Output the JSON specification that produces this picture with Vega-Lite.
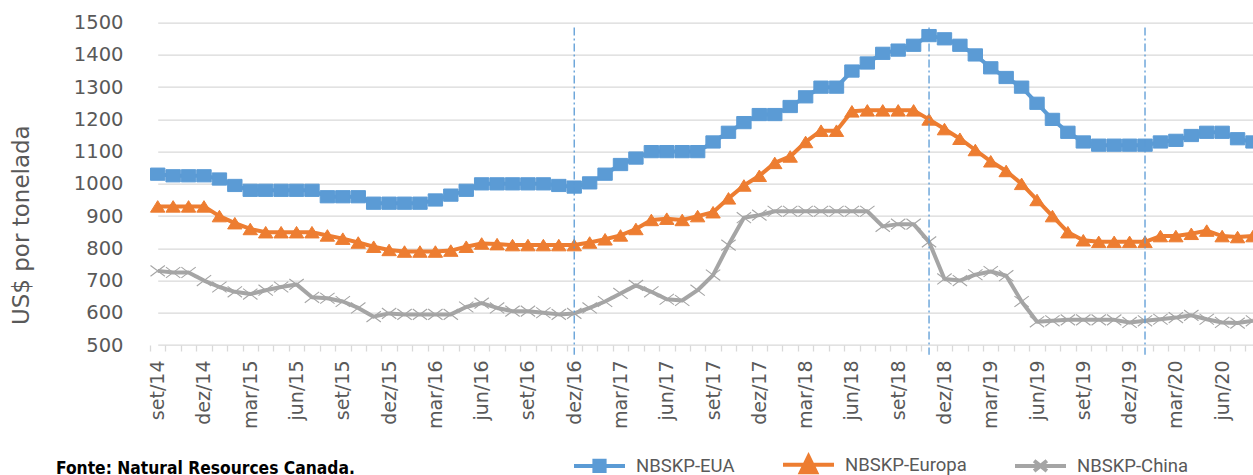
{
  "$schema": "https://vega.github.io/schema/vega-lite/v6.json",
  "autosize": "none",
  "width": 1103,
  "height": 322.3,
  "padding": {"left": 150, "top": 22.7, "right": 0, "bottom": 130},
  "background": "#ffffff",
  "title": {"text": "Fonte: Natural Resources Canada.", "orient": "top", "anchor": "start", "frame": "group", "font": "Liberation Sans Narrow, DejaVu Sans Condensed", "fontSize": 17.3, "fontWeight": "bold", "color": "#000000", "baseline": "alphabetic", "offset": 0, "dx": -94, "dy": 479},
  "config": {
    "view": {"stroke": null},
    "axis": {"labelColor": "#595959", "titleColor": "#595959"}
  },
  "datasets": {
    "precos": [
      {"mes": "set/14", "NBSKP-EUA": 1030, "NBSKP-Europa": 930, "NBSKP-China": 730},
      {"mes": "out/14", "NBSKP-EUA": 1025, "NBSKP-Europa": 930, "NBSKP-China": 725},
      {"mes": "nov/14", "NBSKP-EUA": 1025, "NBSKP-Europa": 930, "NBSKP-China": 725},
      {"mes": "dez/14", "NBSKP-EUA": 1025, "NBSKP-Europa": 930, "NBSKP-China": 700},
      {"mes": "jan/15", "NBSKP-EUA": 1015, "NBSKP-Europa": 900, "NBSKP-China": 680},
      {"mes": "fev/15", "NBSKP-EUA": 995, "NBSKP-Europa": 878, "NBSKP-China": 665},
      {"mes": "mar/15", "NBSKP-EUA": 980, "NBSKP-Europa": 860, "NBSKP-China": 658},
      {"mes": "abr/15", "NBSKP-EUA": 980, "NBSKP-Europa": 850, "NBSKP-China": 670},
      {"mes": "mai/15", "NBSKP-EUA": 980, "NBSKP-Europa": 850, "NBSKP-China": 680},
      {"mes": "jun/15", "NBSKP-EUA": 980, "NBSKP-Europa": 850, "NBSKP-China": 688},
      {"mes": "jul/15", "NBSKP-EUA": 980, "NBSKP-Europa": 850, "NBSKP-China": 648},
      {"mes": "ago/15", "NBSKP-EUA": 960, "NBSKP-Europa": 840, "NBSKP-China": 645},
      {"mes": "set/15", "NBSKP-EUA": 960, "NBSKP-Europa": 830, "NBSKP-China": 635},
      {"mes": "out/15", "NBSKP-EUA": 960, "NBSKP-Europa": 818, "NBSKP-China": 615},
      {"mes": "nov/15", "NBSKP-EUA": 940, "NBSKP-Europa": 805, "NBSKP-China": 588},
      {"mes": "dez/15", "NBSKP-EUA": 940, "NBSKP-Europa": 795, "NBSKP-China": 598},
      {"mes": "jan/16", "NBSKP-EUA": 940, "NBSKP-Europa": 790, "NBSKP-China": 595},
      {"mes": "fev/16", "NBSKP-EUA": 940, "NBSKP-Europa": 790, "NBSKP-China": 595},
      {"mes": "mar/16", "NBSKP-EUA": 950, "NBSKP-Europa": 790, "NBSKP-China": 595},
      {"mes": "abr/16", "NBSKP-EUA": 965, "NBSKP-Europa": 793, "NBSKP-China": 595},
      {"mes": "mai/16", "NBSKP-EUA": 980, "NBSKP-Europa": 805, "NBSKP-China": 618},
      {"mes": "jun/16", "NBSKP-EUA": 1000, "NBSKP-Europa": 815, "NBSKP-China": 630},
      {"mes": "jul/16", "NBSKP-EUA": 1000, "NBSKP-Europa": 813, "NBSKP-China": 615},
      {"mes": "ago/16", "NBSKP-EUA": 1000, "NBSKP-Europa": 810, "NBSKP-China": 605},
      {"mes": "set/16", "NBSKP-EUA": 1000, "NBSKP-Europa": 810, "NBSKP-China": 605},
      {"mes": "out/16", "NBSKP-EUA": 1000, "NBSKP-Europa": 810, "NBSKP-China": 600},
      {"mes": "nov/16", "NBSKP-EUA": 995, "NBSKP-Europa": 810, "NBSKP-China": 595},
      {"mes": "dez/16", "NBSKP-EUA": 990, "NBSKP-Europa": 810, "NBSKP-China": 598},
      {"mes": "jan/17", "NBSKP-EUA": 1003, "NBSKP-Europa": 818, "NBSKP-China": 615},
      {"mes": "fev/17", "NBSKP-EUA": 1030, "NBSKP-Europa": 828, "NBSKP-China": 635},
      {"mes": "mar/17", "NBSKP-EUA": 1060, "NBSKP-Europa": 840, "NBSKP-China": 660},
      {"mes": "abr/17", "NBSKP-EUA": 1080, "NBSKP-Europa": 860, "NBSKP-China": 685},
      {"mes": "mai/17", "NBSKP-EUA": 1100, "NBSKP-Europa": 888, "NBSKP-China": 665},
      {"mes": "jun/17", "NBSKP-EUA": 1100, "NBSKP-Europa": 892, "NBSKP-China": 642},
      {"mes": "jul/17", "NBSKP-EUA": 1100, "NBSKP-Europa": 888, "NBSKP-China": 638},
      {"mes": "ago/17", "NBSKP-EUA": 1100, "NBSKP-Europa": 900, "NBSKP-China": 670},
      {"mes": "set/17", "NBSKP-EUA": 1130, "NBSKP-Europa": 912, "NBSKP-China": 717},
      {"mes": "out/17", "NBSKP-EUA": 1160, "NBSKP-Europa": 955, "NBSKP-China": 810},
      {"mes": "nov/17", "NBSKP-EUA": 1190, "NBSKP-Europa": 995, "NBSKP-China": 895},
      {"mes": "dez/17", "NBSKP-EUA": 1215, "NBSKP-Europa": 1025, "NBSKP-China": 903},
      {"mes": "jan/18", "NBSKP-EUA": 1215, "NBSKP-Europa": 1065, "NBSKP-China": 915},
      {"mes": "fev/18", "NBSKP-EUA": 1240, "NBSKP-Europa": 1085, "NBSKP-China": 915},
      {"mes": "mar/18", "NBSKP-EUA": 1270, "NBSKP-Europa": 1130, "NBSKP-China": 915},
      {"mes": "abr/18", "NBSKP-EUA": 1300, "NBSKP-Europa": 1165, "NBSKP-China": 915},
      {"mes": "mai/18", "NBSKP-EUA": 1300, "NBSKP-Europa": 1165, "NBSKP-China": 915},
      {"mes": "jun/18", "NBSKP-EUA": 1350, "NBSKP-Europa": 1225, "NBSKP-China": 915},
      {"mes": "jul/18", "NBSKP-EUA": 1375, "NBSKP-Europa": 1228, "NBSKP-China": 915},
      {"mes": "ago/18", "NBSKP-EUA": 1405, "NBSKP-Europa": 1228, "NBSKP-China": 868},
      {"mes": "set/18", "NBSKP-EUA": 1415, "NBSKP-Europa": 1228, "NBSKP-China": 875},
      {"mes": "out/18", "NBSKP-EUA": 1430, "NBSKP-Europa": 1228, "NBSKP-China": 875},
      {"mes": "nov/18", "NBSKP-EUA": 1460, "NBSKP-Europa": 1200, "NBSKP-China": 820},
      {"mes": "dez/18", "NBSKP-EUA": 1450, "NBSKP-Europa": 1170, "NBSKP-China": 705},
      {"mes": "jan/19", "NBSKP-EUA": 1430, "NBSKP-Europa": 1140, "NBSKP-China": 700},
      {"mes": "fev/19", "NBSKP-EUA": 1400, "NBSKP-Europa": 1105, "NBSKP-China": 718},
      {"mes": "mar/19", "NBSKP-EUA": 1360, "NBSKP-Europa": 1070, "NBSKP-China": 728},
      {"mes": "abr/19", "NBSKP-EUA": 1330, "NBSKP-Europa": 1040, "NBSKP-China": 715},
      {"mes": "mai/19", "NBSKP-EUA": 1300, "NBSKP-Europa": 1000, "NBSKP-China": 635},
      {"mes": "jun/19", "NBSKP-EUA": 1250, "NBSKP-Europa": 950, "NBSKP-China": 572},
      {"mes": "jul/19", "NBSKP-EUA": 1200, "NBSKP-Europa": 900, "NBSKP-China": 575},
      {"mes": "ago/19", "NBSKP-EUA": 1160, "NBSKP-Europa": 850, "NBSKP-China": 578},
      {"mes": "set/19", "NBSKP-EUA": 1130, "NBSKP-Europa": 825, "NBSKP-China": 578},
      {"mes": "out/19", "NBSKP-EUA": 1120, "NBSKP-Europa": 820, "NBSKP-China": 578},
      {"mes": "nov/19", "NBSKP-EUA": 1120, "NBSKP-Europa": 820, "NBSKP-China": 578},
      {"mes": "dez/19", "NBSKP-EUA": 1120, "NBSKP-Europa": 820, "NBSKP-China": 570},
      {"mes": "jan/20", "NBSKP-EUA": 1120, "NBSKP-Europa": 820, "NBSKP-China": 575},
      {"mes": "fev/20", "NBSKP-EUA": 1130, "NBSKP-Europa": 838, "NBSKP-China": 580},
      {"mes": "mar/20", "NBSKP-EUA": 1135, "NBSKP-Europa": 838, "NBSKP-China": 585},
      {"mes": "abr/20", "NBSKP-EUA": 1150, "NBSKP-Europa": 845, "NBSKP-China": 592},
      {"mes": "mai/20", "NBSKP-EUA": 1160, "NBSKP-Europa": 855, "NBSKP-China": 580},
      {"mes": "jun/20", "NBSKP-EUA": 1160, "NBSKP-Europa": 838, "NBSKP-China": 570},
      {"mes": "jul/20", "NBSKP-EUA": 1140, "NBSKP-Europa": 835, "NBSKP-China": 568},
      {"mes": "ago/20", "NBSKP-EUA": 1130, "NBSKP-Europa": 838, "NBSKP-China": 575}
    ],
    "marcos": [{"mes": "dez/16"}, {"mes": "nov/18"}, {"mes": "jan/20"}]
  },
  "encoding": {
    "x": {
      "field": "mes", "type": "ordinal", "sort": null,
      "scale": {"type": "point", "padding": 0, "range": [7.7, 1103],
        "domain": ["set/14","out/14","nov/14","dez/14","jan/15","fev/15","mar/15","abr/15","mai/15","jun/15","jul/15","ago/15","set/15","out/15","nov/15","dez/15","jan/16","fev/16","mar/16","abr/16","mai/16","jun/16","jul/16","ago/16","set/16","out/16","nov/16","dez/16","jan/17","fev/17","mar/17","abr/17","mai/17","jun/17","jul/17","ago/17","set/17","out/17","nov/17","dez/17","jan/18","fev/18","mar/18","abr/18","mai/18","jun/18","jul/18","ago/18","set/18","out/18","nov/18","dez/18","jan/19","fev/19","mar/19","abr/19","mai/19","jun/19","jul/19","ago/19","set/19","out/19","nov/19","dez/19","jan/20","fev/20","mar/20","abr/20","mai/20","jun/20","jul/20","ago/20"]},
      "axis": {
        "title": null, "domain": false, "grid": false,
        "ticks": true, "tickSize": 6, "tickColor": "#d9d9d9", "tickWidth": 1.3,
        "tickOffset": -7.7, "labelOffset": 7.7,
        "labelAngle": -90, "labelAlign": "right", "labelBaseline": "middle",
        "labelPadding": 9, "labelOverlap": false,
        "labelFont": "DejaVu Sans", "labelFontSize": 19,
        "labelExpr": "indexof(['set','dez','mar','jun'], slice(datum.value, 0, 3)) >= 0 ? datum.value : ''"
      }
    }
  },
  "layer": [
    {
      "data": {"name": "precos"},
      "transform": [
        {"fold": ["NBSKP-EUA", "NBSKP-Europa", "NBSKP-China"], "as": ["serie", "preco"]}
      ],
      "encoding": {
        "y": {
          "field": "preco", "type": "quantitative",
          "scale": {"domain": [500, 1500], "nice": false, "zero": false},
          "axis": {
            "title": "US$ por tonelada", "titleFont": "DejaVu Sans", "titleFontSize": 23, "titleFontWeight": "normal",
            "titleAngle": -90, "titleX": -129, "titleY": 202, "titleAlign": "center", "titleBaseline": "middle",
            "values": [500, 600, 700, 800, 900, 1000, 1100, 1200, 1300, 1400, 1500], "format": "d",
            "domain": false, "ticks": false, "grid": true, "gridColor": "#d9d9d9", "gridWidth": 1.3,
            "labelFont": "DejaVu Sans", "labelFontSize": 19.5, "labelPadding": 27, "labelOverlap": false
          }
        }
      },
      "layer": [
        {
          "mark": {"type": "line", "strokeJoin": "round", "strokeCap": "butt"},
          "encoding": {
            "color": {
              "field": "serie", "type": "nominal",
              "scale": {"domain": ["NBSKP-EUA", "NBSKP-Europa", "NBSKP-China"], "range": ["#5b9bd5", "#ed7d31", "#a5a5a5"]},
              "legend": {
                "orient": "none", "legendX": 422, "legendY": 414, "direction": "horizontal", "title": null,
                "padding": 0, "symbolSize": 2600, "labelOffset": 9, "columnPadding": 40,
                "labelFont": "Roboto", "labelFontSize": 18.5, "labelColor": "#595959",
                "symbolType": "M-1,0H1",
                "encode": {"symbols": {"update": {
                  "shape": {"signal": "datum.value === 'NBSKP-EUA' ? 'M-1,0H1M-0.2,-0.2H0.2V0.2H-0.2Z' : datum.value === 'NBSKP-Europa' ? 'M-1,0H1M0,-0.32L0.3,0.3H-0.3Z' : 'M-1,0H1M-0.25,-0.2L0.25,0.2M-0.25,0.2L0.25,-0.2'"},
                  "fill": {"signal": "scale('color', datum.value)"},
                  "stroke": {"signal": "scale('color', datum.value)"},
                  "strokeWidth": {"value": 3},
                  "opacity": {"value": 1},
                  "fillOpacity": {"value": 1},
                  "strokeOpacity": {"value": 1}
                }}}
              }
            },
            "strokeWidth": {
              "field": "serie", "type": "nominal",
              "scale": {"domain": ["NBSKP-EUA", "NBSKP-Europa", "NBSKP-China"], "range": [4, 4, 5]},
              "legend": null
            }
          }
        },
        {
          "transform": [{"filter": "datum.serie === 'NBSKP-EUA'"}],
          "mark": {"type": "point", "shape": "M-1,-0.85H1V0.85H-1Z", "size": 207, "fill": "#5b9bd5", "stroke": "#5b9bd5", "strokeWidth": 1, "opacity": 1, "fillOpacity": 1}
        },
        {
          "transform": [{"filter": "datum.serie === 'NBSKP-Europa'"}],
          "mark": {"type": "point", "shape": "M0,-0.8L1,0.8H-1Z", "size": 207, "fill": "#ed7d31", "stroke": "#ed7d31", "strokeWidth": 1, "opacity": 1, "fillOpacity": 1}
        },
        {
          "transform": [{"filter": "datum.serie === 'NBSKP-China'"}],
          "mark": {"type": "point", "shape": "M-1,-0.75L1,0.75M-1,0.75L1,-0.75", "size": 207, "fill": "#a5a5a5", "stroke": "#a5a5a5", "strokeWidth": 1.1, "opacity": 1}
        }
      ]
    },
    {
      "data": {"name": "marcos"},
      "mark": {"type": "rule", "color": "#5b9bd5", "strokeWidth": 1.3, "strokeDash": [8, 3, 2, 3], "opacity": 1},
      "encoding": {
        "y": {
          "datum": 1485, "type": "quantitative",
          "axis": {
            "title": "US$ por tonelada", "titleFont": "DejaVu Sans", "titleFontSize": 23, "titleFontWeight": "normal",
            "titleAngle": -90, "titleX": -129, "titleY": 202, "titleAlign": "center", "titleBaseline": "middle",
            "values": [500, 600, 700, 800, 900, 1000, 1100, 1200, 1300, 1400, 1500], "format": "d",
            "domain": false, "ticks": false, "grid": true, "gridColor": "#d9d9d9", "gridWidth": 1.3,
            "labelFont": "DejaVu Sans", "labelFontSize": 19.5, "labelPadding": 27, "labelOverlap": false
          }
        },
        "y2": {"datum": 470}
      }
    }
  ]
}
